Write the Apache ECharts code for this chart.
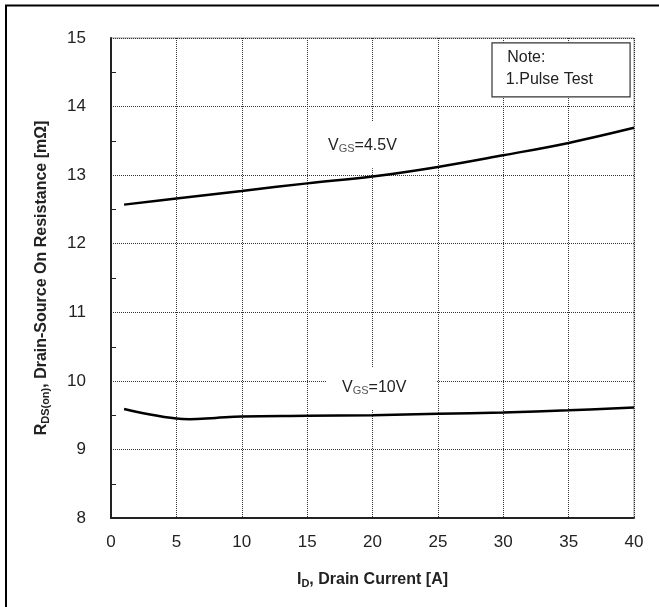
<!DOCTYPE html>
<html>
<head>
<meta charset="utf-8">
<script src="https://cdn.jsdelivr.net/npm/echarts@6/dist/echarts.min.js"></script>
<style>html,body{margin:0;padding:0;background:#fff;}#c{width:659px;height:607px;}</style>
</head>
<body>
<div id="c"></div>
<script>
var currentA = [1, 5, 10, 15, 20, 25, 30, 35, 40];
var rds45 = [12.57, 12.66, 12.77, 12.88, 12.98, 13.12, 13.29, 13.47, 13.69];
var current10 = [1, 3, 5, 6, 8, 10, 15, 20, 25, 30, 35, 40];
var rds10 = [9.59, 9.51, 9.45, 9.44, 9.46, 9.48, 9.49, 9.50, 9.52, 9.54, 9.57, 9.61];
var xTicks = [0, 40, 5];
var yTicks = [8, 15, 1];
var yMinorTicks = [8.5, 9.5, 10.5, 11.5, 12.5, 13.5, 14.5];

var FONT = 'Liberation Sans, Arial, sans-serif';
var chart = echarts.init(document.getElementById('c'));
function pairs(xs, ys) { return xs.map(function (x, i) { return [x, ys[i]]; }); }

chart.setOption({
  animation: false,
  backgroundColor: '#fff',
  grid: { left: 111, top: 38, right: 25, bottom: 89, show: true, borderColor: '#999', borderWidth: 1 },
  xAxis: {
    type: 'value', min: xTicks[0], max: xTicks[1], interval: xTicks[2],
    axisLine: { show: true, lineStyle: { color: '#222', width: 2 } },
    axisTick: { show: false },
    axisLabel: { fontFamily: FONT, fontSize: 17, color: '#222', margin: 16 },
    splitLine: { show: true, lineStyle: { color: '#333', width: 1, type: [1, 1] } },
    name: '{b|I}{s|D}{b|, Drain Current [A]}',
    nameLocation: 'middle', nameGap: 52,
    nameTextStyle: { rich: {
      b: { fontFamily: FONT, fontSize: 16, fontWeight: 'bold', color: '#222' },
      s: { fontFamily: FONT, fontSize: 11, fontWeight: 'bold', color: '#222', verticalAlign: 'bottom', padding: [8, 0, 0, 0] }
    } }
  },
  yAxis: {
    type: 'value', min: yTicks[0], max: yTicks[1], interval: yTicks[2],
    axisLine: { show: true, lineStyle: { color: '#222', width: 2 } },
    axisTick: { show: false },
    axisLabel: { fontFamily: FONT, fontSize: 17, color: '#222', margin: 25 },
    splitLine: { show: true, lineStyle: { color: '#333', width: 1, type: [1, 1] } },
    name: '{b|R}{s|DS(on)}{b|, Drain-Source On Resistance [mΩ]}',
    nameLocation: 'middle', nameGap: 60, nameRotate: 90,
    nameTextStyle: { rich: {
      b: { fontFamily: FONT, fontSize: 16, fontWeight: 'bold', color: '#222' },
      s: { fontFamily: FONT, fontSize: 11, fontWeight: 'bold', color: '#222', verticalAlign: 'bottom', padding: [8, 0, 0, 0] }
    } }
  },
  series: [
    { type: 'line', data: pairs(currentA, rds45), smooth: 0.4, symbol: 'none', z: 5,
      lineStyle: { color: '#000', width: 2.5 } },
    { type: 'line', data: pairs(current10, rds10), smooth: 0.4, symbol: 'none', z: 5,
      lineStyle: { color: '#000', width: 2.5 } }
  ]
});

function P(x, y) { return chart.convertToPixel({ gridIndex: 0 }, [x, y]); }
function box(x0, y0, x1, y1, stroke) {
  var a = P(x0, y0), b = P(x1, y1);
  return { type: 'rect', z: 3, shape: { x: a[0], y: a[1], width: b[0] - a[0], height: b[1] - a[1] },
    style: { fill: '#fff', stroke: stroke || null, lineWidth: stroke ? 1.2 : 0 } };
}
function label(x, y, txt, size) {
  var p = P(x, y);
  return { type: 'text', z: 4, x: p[0], y: p[1],
    style: { text: txt, fontFamily: FONT, fontSize: size || 16, fill: '#222', verticalAlign: 'middle', align: 'left',
      rich: { v: { fontFamily: FONT, fontSize: 16, fill: '#222' }, s: { fontFamily: FONT, fontSize: 11, fill: '#555', padding: [7, 0, 0, 0] } } } };
}
var gfx = [
  box(15.05, 13.78, 24.85, 13.10),
  label(16.6, 13.43, '{v|V}{s|GS}{v|=4.5V}'),
  box(16.5, 10.19, 24.85, 9.58),
  label(17.67, 9.90, '{v|V}{s|GS}{v|=10V}'),
  box(29.14, 14.93, 39.7, 14.14, '#333'),
  label(30.3, 14.71, 'Note:', 16),
  label(30.2, 14.40, '1.Pulse Test', 16),
  { type: 'line', z: 10, shape: { x1: 6, y1: 5, x2: 6, y2: 607 }, style: { stroke: '#000', lineWidth: 2 } },
  { type: 'line', z: 10, shape: { x1: 5, y1: 5.5, x2: 659, y2: 5.5 }, style: { stroke: '#000', lineWidth: 2 } }
];
yMinorTicks.forEach(function (v) {
  var p = P(xTicks[0], v);
  var y = Math.round(p[1]) + 0.5;
  gfx.push({ type: 'line', z: 6, shape: { x1: p[0], y1: y, x2: p[0] + 5, y2: y }, style: { stroke: '#222', lineWidth: 1 } });
});
chart.setOption({ graphic: gfx });
</script>
</body>
</html>
